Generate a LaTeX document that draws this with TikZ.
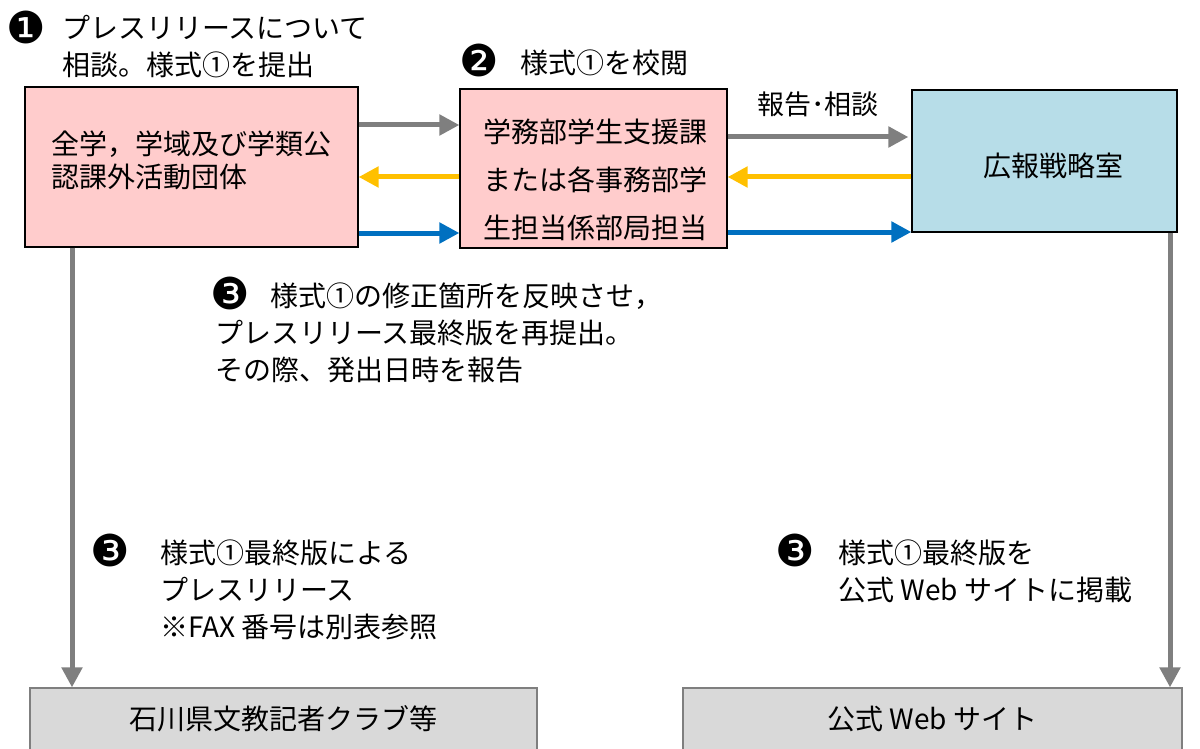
\documentclass[tikz,border=0pt]{standalone}
\usepackage{fontspec}
\setmainfont{Noto Sans CJK JP}
\newfontfamily\dingfont{DejaVu Sans}
\usetikzlibrary{arrows.meta}
\definecolor{boxpink}{HTML}{FFCCCC}
\definecolor{boxblue}{HTML}{B7DDE8}
\definecolor{boxgray}{HTML}{D9D9D9}
\definecolor{argray}{HTML}{7F7F7F}
\definecolor{arorange}{HTML}{FFC000}
\definecolor{arblue}{HTML}{0070C0}
\tikzset{
  box/.style={draw=black, line width=1.2pt, inner sep=0pt},
  btxt/.style={inner sep=0pt, align=left},
  botbox/.style={draw=argray, line width=1.2pt, fill=boxgray, inner sep=0pt, font=\fontsize{28}{30}\selectfont},
  arr/.style={line width=5pt, -{Triangle[length=20pt,width=20pt]}},
  lbl/.style={inner sep=0pt, align=left, anchor=north west, font=\fontsize{28}{37}\selectfont},
  num/.style={inner sep=0pt, font=\fontsize{44}{44}\dingfont},
}
\begin{document}
\begin{tikzpicture}[x=1pt,y=-1pt]
\useasboundingbox (0,0) rectangle (1200,749);
% boxes
\node[box, fill=boxpink, minimum width=333pt, minimum height=160pt] (b1) at (191.5,167) {};
\node[btxt, font=\fontsize{28}{33}\selectfont] (t1) at (191.5,160.5) {全学，学域及び学類公\\認課外活動団体};
\node[box, fill=boxpink, minimum width=267pt, minimum height=159pt] (b2) at (593.5,168.5) {};
\node[btxt, font=\fontsize{28}{48}\selectfont] (t2) at (595,180) {学務部学生支援課\\または各事務部学\\生担当係部局担当};
\node[box, fill=boxblue, minimum width=265pt, minimum height=142pt] (b3) at (1044.5,161) {};
\node[btxt, font=\fontsize{28}{30}\selectfont] (t3) at (1053,166) {広報戦略室};
\node[botbox, minimum width=507pt, minimum height=62pt] (b4) at (283.5,719) {石川県文教記者クラブ等};
\node[botbox, minimum width=499pt, minimum height=62pt] (b5) at (932.5,719) {公式 Web サイト};
% horizontal arrows
\draw[arr, argray] ([yshift=42pt]b1.east) -- ([yshift=43.5pt]b2.west);
\draw[arr, arorange] ([yshift=-8.5pt]b2.west) -- ([yshift=-10pt]b1.east);
\draw[arr, arblue] ([yshift=-66pt]b1.east) -- ([yshift=-64.5pt]b2.west);
\draw[arr, argray] ([yshift=31.5pt]b2.east) -- ([yshift=24pt,xshift=-3pt]b3.west);
\draw[arr, arorange] ([yshift=-16pt]b3.west) -- ([yshift=-8.5pt]b2.east);
\draw[arr, arblue] ([yshift=-63.5pt]b2.east) -- ([yshift=-71pt]b3.west);
\node[inner sep=0pt, font=\fontsize{27}{27}\selectfont] (lr) at (818,104) {報告･相談};
% vertical arrows
\draw[arr, argray] ([xshift=-119.5pt]b1.south) -- ([xshift=-211.5pt]b4.north);
\draw[arr, argray] ([xshift=125.5pt]b3.south) -- ([xshift=237.5pt]b5.north);
% labels
\node[num] (n1) at (26,27) {❶};
\node[lbl] (l1) at (62,15) {プレスリリースについて\\相談。様式①を提出};
\node[num] (n2) at (479,60) {❷};
\node[lbl] (l2) at (520,50) {様式①を校閲};
\node[num] (n3) at (230,293) {❸};
\node[lbl] (l3) at (215,283) {\hspace{55pt}様式①の修正箇所を反映させ，\\プレスリリース最終版を再提出。\\その際、発出日時を報告};
\node[num] (n4) at (110,550) {❸};
\node[lbl] (l4) at (160,540) {様式①最終版による\\プレスリリース\\※FAX 番号は別表参照};
\node[num] (n5) at (795,550) {❸};
\node[lbl] (l5) at (838,540) {様式①最終版を\\公式 Web サイトに掲載};
\end{tikzpicture}
\end{document}
